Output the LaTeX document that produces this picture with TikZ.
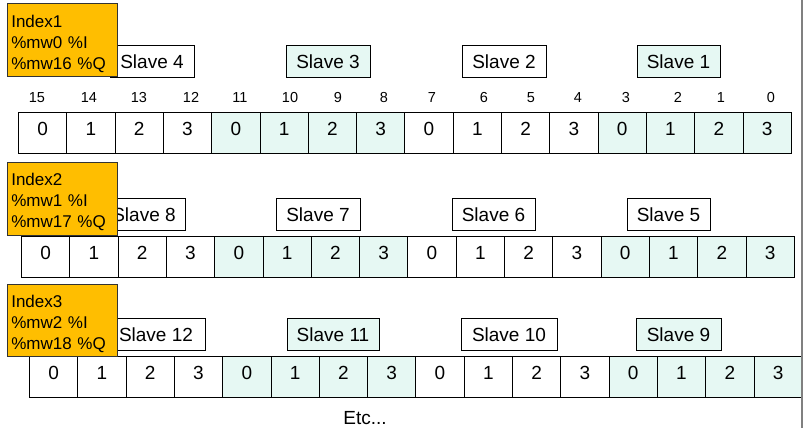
\documentclass[tikz,border=0pt]{standalone}
\usepackage{fontspec}
\setmainfont{Liberation Sans}
\definecolor{mint}{RGB}{230,248,243}
\definecolor{gold}{RGB}{255,190,0}
\begin{document}
\begin{tikzpicture}[x=1pt,y=-1pt,
 cell/.style={draw=black, line width=0.9pt, fill=#1, minimum width=48.3pt, minimum height=41pt, inner sep=0pt, text height=14pt, text depth=9pt, font=\fontsize{19}{19}\selectfont, anchor=north west},
 slavebox/.style={draw=black, line width=0.8pt, fill=#1, inner sep=0pt, minimum height=32pt, text height=14pt, text depth=0pt, font=\fontsize{19}{19}\selectfont},
 idxbox/.style={draw=black!80, line width=0.6pt, fill=gold, minimum width=110pt, minimum height=#1, anchor=north west, align=left, text width=102pt, inner xsep=4pt, inner ysep=0pt, font=\fontsize{17}{21}\selectfont},
 bitnum/.style={font=\fontsize{14.5}{14.5}\selectfont, inner sep=0pt, anchor=base},
 edgeline/.style={draw=gray, line width=1.2pt}]
\useasboundingbox (0,0) rectangle (805,432);
% cells
\foreach \r/\x/\y in {1/18/112, 2/21/236, 3/29/356}{
  \foreach \i in {0,...,15}{
    \pgfmathtruncatemacro\d{mod(\i,4)}
    \pgfmathtruncatemacro\g{mod(floor(\i/4),2)}
    \ifnum\g=0 \def\fc{white}\else\def\fc{mint}\fi
    \node[cell=\fc] (r\r c\i) at ({\x+\i*48.3}, \y) {\d};
  }
}
% bit numbers
\foreach \n/\px in {15/37,14/89,13/139,12/191,11/240,10/290,9/338,8/384,7/432,6/484,5/531,4/578,3/626,2/678,1/721,0/771}{
  \node[bitnum] (b\n) at (\px,102) {\n};
}
% slave boxes
\node[slavebox=white, minimum width=84pt] (s4) at (152,61.5) {Slave 4};
\node[slavebox=mint, minimum width=84pt] (s3) at (328,61.5) {Slave 3};
\node[slavebox=white, minimum width=84pt] (s2) at (504,61.5) {Slave 2};
\node[slavebox=mint, minimum width=83pt] (s1) at (678.5,61.5) {Slave 1};
\node[slavebox=white, minimum width=82pt] (s8) at (144,214) {Slave 8};
\node[slavebox=white, minimum width=84pt] (s7) at (318,214) {Slave 7};
\node[slavebox=white, minimum width=83pt] (s6) at (493.5,214) {Slave 6};
\node[slavebox=white, minimum width=83pt] (s5) at (668.5,214) {Slave 5};
\node[slavebox=white, minimum width=98pt] (s12) at (156,334.5) {Slave 12};
\node[slavebox=mint, minimum width=92pt] (s11) at (333,334.5) {Slave 11};
\node[slavebox=white, minimum width=96pt] (s10) at (509,334.5) {Slave 10};
\node[slavebox=mint, minimum width=85pt] (s9) at (678.5,334.5) {Slave 9};
% index boxes
\node[idxbox=73pt] (idx1) at (7,3) {\rule{0pt}{20pt}Index1\\\%mw0 \%I\\\%mw16 \%Q};
\node[idxbox=73pt] (idx2) at (7,162) {\rule{0pt}{19pt}Index2\\\%mw1 \%I\\\%mw17 \%Q};
\node[idxbox=72pt, minimum width=108pt] (idx3) at (7,284) {\rule{0pt}{19pt}Index3\\\%mw2 \%I\\\%mw18 \%Q};
% etc
\node[font=\fontsize{19}{19}\selectfont, inner sep=0pt] (etc) at (365,418) {Etc...};
% right edge line
\coordinate (gt) at (802,0);
\coordinate (gb) at (802,428);
\draw[edgeline] (gt) -- (gb);
\end{tikzpicture}
\end{document}
